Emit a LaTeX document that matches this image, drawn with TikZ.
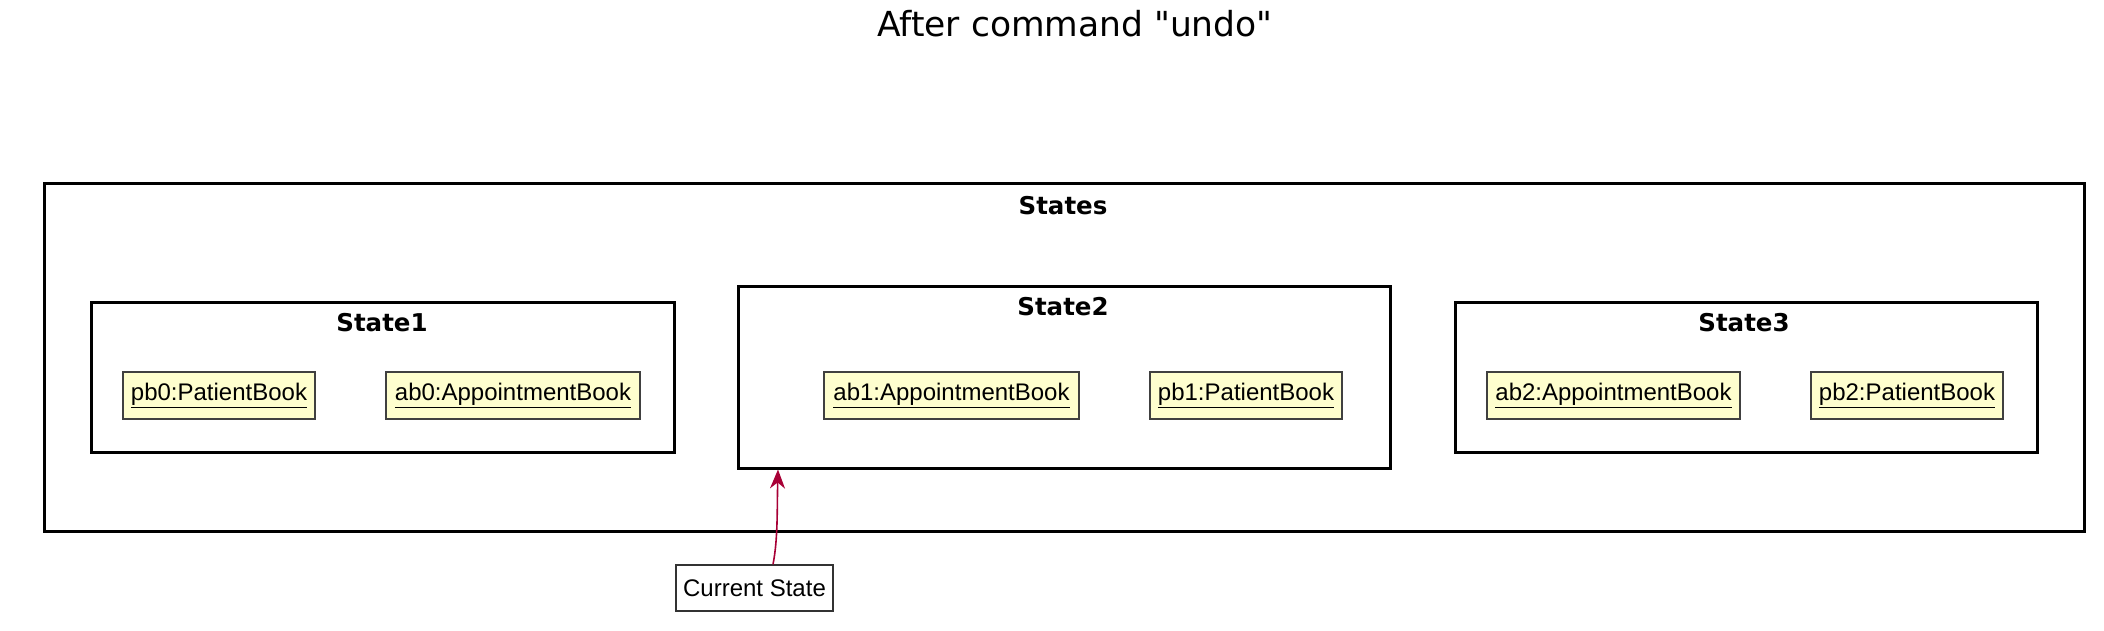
\documentclass[tikz,border=0pt]{standalone}
\usepackage{fontspec}
\setmainfont{Liberation Sans}
\newfontfamily\titlefont{DejaVu Sans}
\usetikzlibrary{arrows.meta}
\definecolor{objfill}{HTML}{FEFECE}
\definecolor{arrowred}{HTML}{A80036}
\begin{document}
\begin{tikzpicture}[x=1pt,y=-1pt,
  pkg/.style={draw=black,line width=3pt,fill=none},
  pkglabel/.style={font=\titlefont\bfseries\fontsize{24.5}{28}\selectfont,anchor=center,inner sep=0pt},
  obj/.style={draw=black!75,line width=1.4pt,fill=objfill,minimum height=47pt,inner sep=0pt,font=\fontsize{24}{28}\selectfont},
  note/.style={draw=black!80,line width=1.4pt,fill=white,minimum height=46pt,minimum width=157pt,inner sep=0pt,font=\fontsize{24}{28}\selectfont},
  conn/.style={draw=arrowred,line width=1.6pt,-{Stealth[length=19pt,width=15pt,inset=6pt]}}
]
\useasboundingbox (0,0) rectangle (2104,631);
% title
\node[font=\titlefont\fontsize{34.5}{40}\selectfont,inner sep=0pt] (title) at (1075,24) {After command "undo"};
% outer package
\node[pkg,minimum width=2040pt,minimum height=347pt,inner sep=0pt] (states) at (1064,357.5) {};
\node[pkglabel] (stateslbl) at (1063,206) {States};
% State1
\node[pkg,minimum width=583pt,minimum height=150pt,inner sep=0pt] (s1) at (382.5,377) {};
\node[pkglabel] (s1lbl) at (382,323) {State1};
\node[obj,minimum width=192pt] (pb0) at (219,395.5) {\underline{pb0:PatientBook}};
\node[obj,minimum width=254pt] (ab0) at (513,395.5) {\underline{ab0:AppointmentBook}};
% State2
\node[pkg,minimum width=652pt,minimum height=182pt,inner sep=0pt] (s2) at (1064,377) {};
\node[pkglabel] (s2lbl) at (1063,307) {State2};
\node[obj,minimum width=255pt] (ab1) at (951.5,395.5) {\underline{ab1:AppointmentBook}};
\node[obj,minimum width=192pt] (pb1) at (1246,395.5) {\underline{pb1:PatientBook}};
% State3
\node[pkg,minimum width=582pt,minimum height=150pt,inner sep=0pt] (s3) at (1746,377) {};
\node[pkglabel] (s3lbl) at (1744,323) {State3};
\node[obj,minimum width=253pt] (ab2) at (1613.5,395.5) {\underline{ab2:AppointmentBook}};
\node[obj,minimum width=192pt] (pb2) at (1907,395.5) {\underline{pb2:PatientBook}};
% current state
\node[note] (cur) at (754.5,588) {Current State};
\draw[conn] ([xshift=18.5pt]cur.north) .. controls +(5,-25) and +(-1,40) .. ([xshift=-286pt]s2.south);
\end{tikzpicture}
\end{document}
